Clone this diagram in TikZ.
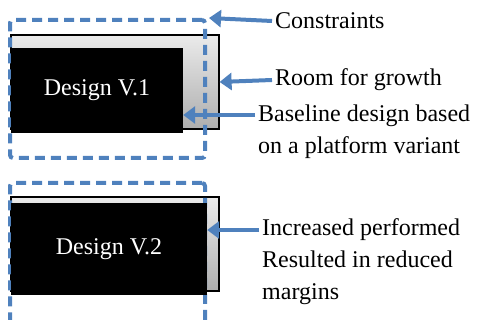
\documentclass[tikz,border=0pt]{standalone}
\usepackage{fontspec}
\setmainfont{Liberation Serif}
\usetikzlibrary{arrows.meta}
\definecolor{linkblue}{RGB}{79,129,189}
\tikzset{
  frame/.style={draw=linkblue, line width=4pt, dash pattern=on 10pt off 6pt,
    rounded corners=3pt, inner sep=0pt},
  growbox/.style={draw=black, line width=1.2pt, top color=black!8,
    bottom color=black!32, inner sep=0pt},
  designbox/.style={fill=black, text=white, inner sep=0pt},
  note/.style={anchor=west, align=left, inner sep=3pt},
  pointer/.style={draw=linkblue, line width=4pt,
    -{Triangle[length=12pt,width=17pt]}},
}

\begin{document}
\begin{tikzpicture}[x=1pt,y=-1pt,font=\fontsize{24}{32}\selectfont]

        \useasboundingbox (0,0) rectangle (478,320);

        % first version
        \node[growbox, minimum width=208pt, minimum height=94pt] (grow1) at (115,82) {};
        \node[frame, minimum width=195pt, minimum height=138pt] (con1) at (107.5,89) {};
        \node[designbox, minimum width=172pt, minimum height=85pt] (v1) at (97,90.5) {Design V.1};

        % second version
        \node[growbox, minimum width=208pt, minimum height=94pt] (grow2) at (115,244) {};
        \node[frame, minimum width=195pt, minimum height=157pt] (con2) at (107.5,261.5) {};
        \node[designbox, minimum width=196pt, minimum height=92pt] (v2) at (109,249) {\raisebox{-5pt}{Design V.2}};

        \begin{scope}[every node/.style={note}]
          \node (cons) at (272,21)  {Constraints};
          \node (room) at (272,80)  {Room for growth};
          \node (base) at (255,132) {Baseline design based\\on a platform variant};
          \node (incr) at (259,262) {Increased performed\\Resulted in reduced\\margins};
        \end{scope}

        \coordinate (b1) at ([yshift=17pt]base.west);
        \coordinate (i1) at ([yshift=32pt]incr.west);

        \draw[pointer] (cons.west) -- ([xshift=2pt]con1.north east);
        \draw[pointer] (room.west) -- (grow1.east);
        \draw[pointer] (b1) -- (v1.east |- b1);
        \draw[pointer] (i1) -- (v2.east |- i1);

      \end{tikzpicture}
\end{document}
